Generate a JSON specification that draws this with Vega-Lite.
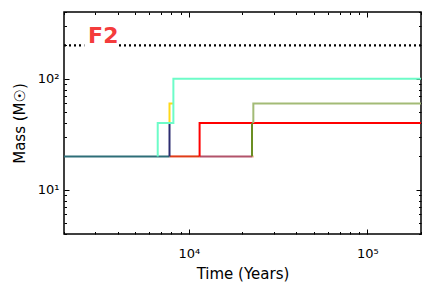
{
  "$schema": "https://vega.github.io/schema/vega-lite/v6.json",
  "width": 357,
  "height": 222,
  "autosize": {"type": "none"},
  "padding": {"left": 64, "top": 12, "right": 11, "bottom": 54},
  "background": "white",
  "config": {
    "view": {"stroke": "black", "strokeWidth": 1.5},
    "font": "DejaVu Sans",
    "axis": {
      "domain": false,
      "grid": false,
      "tickColor": "black",
      "tickWidth": 1,
      "labelColor": "black",
      "labelFont": "DejaVu Sans",
      "labelFontSize": 13,
      "titleFont": "DejaVu Sans",
      "titleFontSize": 15,
      "titleFontWeight": "normal",
      "titleColor": "black",
      "labelOverlap": false,
      "labelBound": false,
      "labelFlush": false
    }
  },
  "datasets": {
    "lines": [
      {"s": "s1", "i": 0, "t": 22700, "m": 20},
      {"s": "s1", "i": 1, "t": 23100, "m": 20},
      {"s": "s2", "i": 0, "t": 11500, "m": 20},
      {"s": "s2", "i": 1, "t": 22700, "m": 20},
      {"s": "s3", "i": 0, "t": 7800, "m": 20},
      {"s": "s3", "i": 1, "t": 11500, "m": 20},
      {"s": "s4", "i": 0, "t": 11500, "m": 20},
      {"s": "s4", "i": 1, "t": 11500, "m": 40},
      {"s": "s4", "i": 2, "t": 200000, "m": 40},
      {"s": "s5", "i": 0, "t": 2000, "m": 20},
      {"s": "s5", "i": 1, "t": 7800, "m": 20},
      {"s": "s6", "i": 0, "t": 7800, "m": 20},
      {"s": "s6", "i": 1, "t": 7800, "m": 40},
      {"s": "s7", "i": 0, "t": 22600, "m": 20},
      {"s": "s7", "i": 1, "t": 22600, "m": 40},
      {"s": "s8", "i": 0, "t": 23000, "m": 40},
      {"s": "s8", "i": 1, "t": 23000, "m": 60},
      {"s": "s8", "i": 2, "t": 200000, "m": 60},
      {"s": "s9", "i": 0, "t": 7800, "m": 40},
      {"s": "s9", "i": 1, "t": 7800, "m": 60},
      {"s": "s9", "i": 2, "t": 8200, "m": 60},
      {"s": "t1", "i": 0, "t": 6700, "m": 20},
      {"s": "t1", "i": 1, "t": 6700, "m": 40},
      {"s": "t1", "i": 2, "t": 8200, "m": 40},
      {"s": "t1", "i": 3, "t": 8200, "m": 100},
      {"s": "t1", "i": 4, "t": 200000, "m": 100}
    ],
    "ref": [
      {"m": 200}
    ],
    "box": [
      {"x1": 2600, "x2": 4000, "y1": 160, "y2": 330}
    ],
    "lab": [
      {"x": 3320, "y": 244, "label": "F2"}
    ]
  },
  "layer": [
    {
      "data": {"name": "lines"},
      "mark": {"type": "line", "strokeWidth": 2, "clip": true},
      "encoding": {
        "x": {
          "field": "t", "type": "quantitative",
          "scale": {"type": "log", "domain": [2000, 200000], "nice": false},
          "axis": {
            "orient": "bottom",
            "title": "Time (Years)",
            "values": [2000, 3000, 4000, 5000, 6000, 7000, 8000, 9000, 10000, 20000, 30000, 40000, 50000, 60000, 70000, 80000, 90000, 100000, 200000],
            "labelExpr": "datum.value == 10000 ? '10⁴' : datum.value == 100000 ? '10⁵' : ''",
            "tickSize": {"condition": {"test": "abs(log(datum.value)/LN10 - round(log(datum.value)/LN10)) < 0.001", "value": -5}, "value": -2.5},
            "labelPadding": 18,
            "titlePadding": 4
          }
        },
        "y": {
          "field": "m", "type": "quantitative",
          "scale": {"type": "log", "domain": [4, 400], "nice": false},
          "axis": {
            "orient": "left",
            "title": "Mass (M☉)",
            "values": [4, 5, 6, 7, 8, 9, 10, 20, 30, 40, 50, 60, 70, 80, 90, 100, 200, 300, 400],
            "labelExpr": "datum.value == 10 ? '10¹' : datum.value == 100 ? '10²' : ''",
            "tickSize": {"condition": {"test": "abs(log(datum.value)/LN10 - round(log(datum.value)/LN10)) < 0.001", "value": -5}, "value": -2.5},
            "labelPadding": 10,
            "titlePadding": 10
          }
        },
        "color": {
          "field": "s", "type": "nominal",
          "scale": {
            "domain": ["s1", "s2", "s3", "s4", "s5", "s6", "s7", "s8", "s9", "t1"],
            "range": ["#f5a585", "#b2536a", "#e03c18", "#ff0000", "#2e6e78", "#2c2c70", "#6b8e23", "#a3bb76", "#ffd81a", "#6dfcc8"]
          },
          "legend": null
        },
        "order": {"field": "i", "type": "quantitative"}
      }
    },
    {
      "data": {"name": "ref"},
      "mark": {"type": "rule", "color": "black", "strokeWidth": 2.2, "strokeDash": [2, 3]},
      "encoding": {
        "y": {"field": "m", "type": "quantitative", "axis": null}
      }
    },
    {
      "data": {"name": "box"},
      "mark": {"type": "rect", "fill": "white", "stroke": null},
      "encoding": {
        "x": {"field": "x1", "type": "quantitative", "axis": null},
        "x2": {"field": "x2"},
        "y": {"field": "y1", "type": "quantitative", "axis": null},
        "y2": {"field": "y2"}
      }
    },
    {
      "data": {"name": "lab"},
      "mark": {"type": "text", "font": "DejaVu Sans", "fontWeight": "bold", "fontSize": 22, "color": "#f43c3c", "align": "center", "baseline": "middle"},
      "encoding": {
        "x": {
          "field": "x", "type": "quantitative",
          "axis": {
            "orient": "top", "title": null, "labels": false,
            "values": [2000, 3000, 4000, 5000, 6000, 7000, 8000, 9000, 10000, 20000, 30000, 40000, 50000, 60000, 70000, 80000, 90000, 100000, 200000],
            "tickSize": {"condition": {"test": "abs(log(datum.value)/LN10 - round(log(datum.value)/LN10)) < 0.001", "value": -5}, "value": -2.5}
          }
        },
        "y": {
          "field": "y", "type": "quantitative",
          "axis": {
            "orient": "right", "title": null, "labels": false,
            "values": [4, 5, 6, 7, 8, 9, 10, 20, 30, 40, 50, 60, 70, 80, 90, 100, 200, 300, 400],
            "tickSize": {"condition": {"test": "abs(log(datum.value)/LN10 - round(log(datum.value)/LN10)) < 0.001", "value": -5}, "value": -2.5}
          }
        },
        "text": {"field": "label"}
      }
    }
  ],
  "resolve": {"axis": {"x": "independent", "y": "independent"}}
}
